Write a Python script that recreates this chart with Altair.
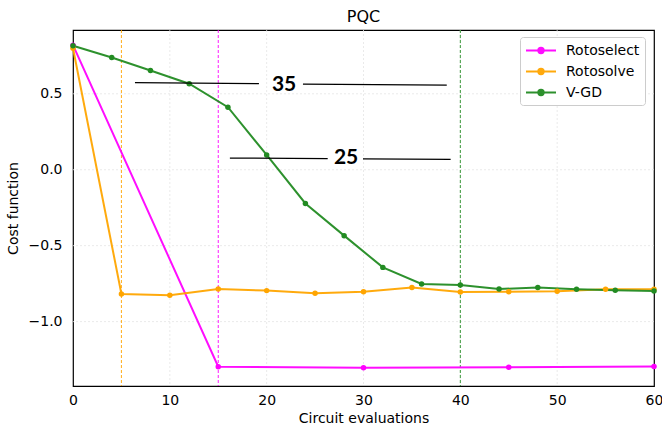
import altair as alt
import pandas as pd

# ---- data ----
roto_select_x = [0, 15, 30, 45, 60]
roto_select_y = [0.82, -1.297, -1.304, -1.300, -1.296]

roto_solve_x = [0, 5, 10, 15, 20, 25, 30, 35, 40, 45, 50, 55, 60]
roto_solve_y = [0.80, -0.818, -0.827, -0.785, -0.796, -0.814, -0.803,
                -0.776, -0.805, -0.803, -0.800, -0.787, -0.787]

vgd_x = [0, 4, 8, 12, 16, 20, 24, 28, 32, 36, 40, 44, 48, 52, 56, 60]
vgd_y = [0.816, 0.739, 0.653, 0.566, 0.412, 0.097, -0.222, -0.434,
         -0.643, -0.752, -0.759, -0.785, -0.776, -0.787, -0.794, -0.798]

series_names = ["Rotoselect", "Rotosolve", "V-GD"]
series_colors = ["#ff00ff", "#ffa500", "#228b22"]

vline_x = [5, 15, 40]
vline_series = ["Rotosolve", "Rotoselect", "V-GD"]

# annotation segments (x1, y1, x2, y2) and labels
seg_x1 = [6.4, 23.75, 16.2, 29.95]
seg_y1 = [0.574, 0.564, 0.077, 0.071]
seg_x2 = [19.2, 38.6, 26.3, 39.0]
seg_y2 = [0.567, 0.557, 0.073, 0.068]
label_text = ["35", "25"]
label_x = [21.8, 28.2]
label_y = [0.56, 0.079]

x_ticks = [0, 10, 20, 30, 40, 50, 60]
y_ticks = [-1.0, -0.5, 0.0, 0.5]
x_grid = [10, 20, 30, 40, 50]
y_grid = [-1.0, -0.5, 0.0, 0.5]

rows = []
for n, xs, ys in [("Rotoselect", roto_select_x, roto_select_y),
                  ("Rotosolve", roto_solve_x, roto_solve_y),
                  ("V-GD", vgd_x, vgd_y)]:
    for a, b in zip(xs, ys):
        rows.append({"series": n, "x": a, "y": b})
df = pd.DataFrame(rows)

vl = pd.DataFrame({"x": vline_x, "series": vline_series})
seg = pd.DataFrame({"x": seg_x1, "y": seg_y1, "x2": seg_x2, "y2": seg_y2})
lab = pd.DataFrame({"t": label_text, "x": label_x, "y": label_y})
gx = pd.DataFrame({"x": x_grid})
gy = pd.DataFrame({"y": y_grid})

xscale = alt.Scale(domain=[0, 60], nice=False, zero=False)
yscale = alt.Scale(domain=[-1.424, 0.92], nice=False, zero=False)
cscale = alt.Scale(domain=series_names, range=series_colors)
legend = alt.Legend(
    orient="none", legendX=447, legendY=7, title=None,
    labelFont="DejaVu Sans", labelFontSize=14, labelColor="black",
    symbolType="M-1,0H3M0.64,0a0.36,0.36 0 1,0 0.72,0a0.36,0.36 0 1,0 -0.72,0",
    symbolSize=225, symbolStrokeWidth=2, rowPadding=5,
    strokeColor="#cccccc", fillColor="white", padding=5, cornerRadius=3,
    labelOffset=24,
)
C = alt.Color("series:N", scale=cscale, legend=legend)

X = alt.X("x:Q", scale=xscale, title="Circuit evaluations",
          axis=alt.Axis(values=x_ticks, format="d", labelPadding=7,
                        labelFlush=False))
Y = alt.Y("y:Q", scale=yscale, title="Cost function",
          axis=alt.Axis(values=y_ticks, format=".1f", labelPadding=11,
                        labelFlush=False))

gridx = alt.Chart(gx).mark_rule(color="#e4e4e4", strokeWidth=0.8,
                                strokeDash=[2, 2]).encode(x=alt.X("x:Q", scale=xscale))
gridy = alt.Chart(gy).mark_rule(color="#e4e4e4", strokeWidth=0.8,
                                strokeDash=[2, 2]).encode(y=alt.Y("y:Q", scale=yscale))

vlines = alt.Chart(vl).mark_rule(strokeWidth=0.9, strokeDash=[3, 2]).encode(
    x=alt.X("x:Q", scale=xscale),
    color=C,
)

lines = alt.Chart(df).mark_line(strokeWidth=2, opacity=0.95).encode(
    x=X, y=Y, color=C, detail="series:N",
)
points = alt.Chart(df).mark_point(filled=True, size=30, opacity=1).encode(
    x="x:Q", y="y:Q", color=C,
)

segs = alt.Chart(seg).mark_rule(color="black", strokeWidth=1.2).encode(
    x="x:Q", y="y:Q", x2="x2:Q", y2="y2:Q"
)
labels = alt.Chart(lab).mark_text(fontSize=21, fontWeight="bold",
                                  font="Lato", color="black").encode(
    x="x:Q", y="y:Q", text="t:N"
)

chart = alt.layer(gridx, gridy, vlines, lines, points, segs, labels).properties(
    width=581, height=356,
    title=alt.TitleParams("PQC", fontSize=16, fontWeight="normal",
                          font="DejaVu Sans", color="black", offset=5),
    autosize=alt.AutoSizeParams(type="none"),
    padding={"left": 73, "top": 30, "right": 8, "bottom": 45},
).configure_view(
    stroke="black", strokeWidth=1.2
).configure_axis(
    labelFont="DejaVu Sans", titleFont="DejaVu Sans",
    labelFontSize=14, titleFontSize=14, labelColor="black", titleColor="black",
    titleFontWeight="normal",
    domain=False, ticks=False,
    grid=False,
).configure_axisX(titlePadding=4).configure_axisY(titlePadding=8)

chart.save("out.html", embed_options={"renderer": "svg", "actions": False})
